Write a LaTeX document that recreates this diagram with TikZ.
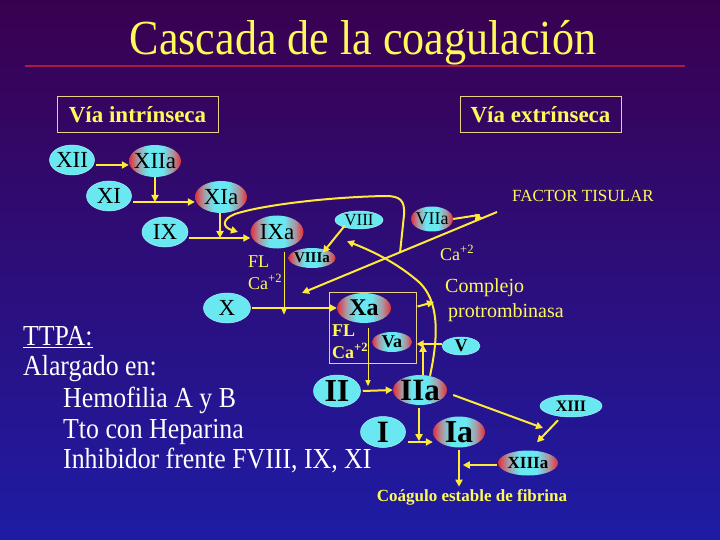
\documentclass[tikz,border=0pt]{standalone}
\usepackage{fontspec}
\setmainfont{Liberation Serif}
\usetikzlibrary{shapes.geometric,arrows.meta,calc}
\definecolor{bgtop}{RGB}{58,0,80}
\definecolor{bgbot}{RGB}{30,28,165}
\definecolor{yel}{RGB}{255,250,90}
\definecolor{arrY}{RGB}{255,235,55}
\definecolor{boxc}{RGB}{235,210,130}
\definecolor{redl}{RGB}{175,25,65}
\definecolor{cyE}{RGB}{105,232,242}
\definecolor{rdE}{RGB}{228,45,55}
\definecolor{mdE}{RGB}{170,150,160}
\pgfdeclarehorizontalshading{ellsh}{100bp}{color(0bp)=(rdE); color(25bp)=(rdE); color(33bp)=(mdE); color(43bp)=(cyE); color(57bp)=(cyE); color(67bp)=(mdE); color(75bp)=(rdE); color(100bp)=(rdE)}
\newcommand{\fsz}[1]{\fontsize{#1}{#1}\selectfont}
\tikzset{
 ell/.style={ellipse, inner sep=0pt, fill=cyE, draw=cyE!60!white, line width=0.5pt},
 ella/.style={ellipse, inner sep=0pt, shading=ellsh},
 arr/.style={draw=arrY, line width=2pt, -{Triangle[length=7pt,width=7pt]}},
 tarr/.style={draw=arrY, line width=1pt, -{Triangle[length=6pt,width=5pt]}},
 ytxt/.style={text=yel, inner sep=0pt},
 etxt/.style={text=black, inner sep=0pt},
 wtxt/.style={text=white, inner sep=0pt, anchor=base west},
 vbox/.style={draw=boxc, line width=1pt, minimum width=161, minimum height=36, text=yel, inner sep=0pt, font=\fsz{23}\bfseries},
}
\begin{document}
\begin{tikzpicture}[x=1pt,y=-1pt]
\useasboundingbox (0,0) rectangle (720,540);
\shade[top color=bgtop,bottom color=bgbot] (0,0) rectangle (720,540);

% title
\node[ytxt, anchor=base] (title) at (363,55) {\fsz{49}\scalebox{0.9}[1]{Cascada de la coagulación}};
\draw[redl, line width=1.2pt] (25,66) -- (685,66);

\node[vbox] (vint) at (137.5,115) {Vía intrínseca};
\node[vbox] (vext) at (540.5,115) {Vía extrínseca};

% ellipses
\node[ell,  minimum width=45, minimum height=30] (xii)  at (72,160) {};
\node[ella, minimum width=52, minimum height=32] (xiia) at (155,161) {};
\node[ell,  minimum width=45, minimum height=30] (xi)   at (109,196) {};
\node[ella, minimum width=52, minimum height=32] (xia)  at (221,197) {};
\node[ell,  minimum width=46, minimum height=30] (ix)   at (165,232) {};
\node[ella, minimum width=53, minimum height=33] (ixa)  at (277,232) {};
\node[ell,  minimum width=48, minimum height=18] (viii) at (359,220) {};
\node[ella, minimum width=42, minimum height=25] (viia) at (432,219) {};
\node[ella, minimum width=47, minimum height=20] (viiia) at (312,258) {};
\node[ell,  minimum width=47, minimum height=30] (x)    at (227,308) {};
\node[draw=boxc, line width=1pt, minimum width=87, minimum height=71, inner sep=0pt] (cplx) at (372.5,327.5) {};
\node[ella, minimum width=54, minimum height=30] (xa)   at (364,308) {};
\node[ella, minimum width=40, minimum height=20] (va)   at (392,342) {};
\node[ell,  minimum width=38, minimum height=18] (v)    at (461,346) {};
\node[ell,  minimum width=47, minimum height=32] (ii)   at (337,391) {};
\node[ella, minimum width=54, minimum height=30] (iia)  at (420,390) {};
\node[ell,  minimum width=45, minimum height=31] (i)    at (383,432) {};
\node[ella, minimum width=52, minimum height=31] (ia)   at (459,432) {};
\node[ell,  minimum width=62, minimum height=22] (xiii) at (571,406) {};
\node[ella, minimum width=60, minimum height=25] (xiiia) at (528,463) {};

% ellipse texts
\node[etxt, font=\fsz{23}] (xiiT) at (xii) {XII};
\node[etxt, font=\fsz{23}] (xiiaT) at (xiia) {XIIa};
\node[etxt, font=\fsz{23}] (xiT) at (xi) {XI};
\node[etxt, font=\fsz{23}] (xiaT) at (xia) {XIa};
\node[etxt, font=\fsz{23}] (ixT) at (ix) {IX};
\node[etxt, font=\fsz{23}] (ixaT) at (ixa) {IXa};
\node[etxt, font=\fsz{17}] (viiiT) at (viii) {VIII};
\node[etxt, font=\fsz{18}] (viiaT) at (viia) {VIIa};
\node[etxt, font=\fsz{15}\bfseries] (viiiaT) at (viiia) {VIIIa};
\node[etxt, font=\fsz{23}] (xT) at (x) {X};
\node[etxt, font=\fsz{24}\bfseries] (xaT) at (xa) {Xa};
\node[etxt, font=\fsz{18}\bfseries] (vaT) at (va) {Va};
\node[etxt, font=\fsz{18}\bfseries] (vT) at (v) {V};
\node[etxt, font=\fsz{32}\bfseries] (iiT) at (ii) {II};
\node[etxt, font=\fsz{31}\bfseries] (iiaT) at (iia) {IIa};
\node[etxt, font=\fsz{31}\bfseries] (iT) at (i) {I};
\node[etxt, font=\fsz{32}\bfseries] (iaT) at (ia) {Ia};
\node[etxt, font=\fsz{16}\bfseries] (xiiiT) at (xiii) {XIII};
\node[etxt, font=\fsz{17}\bfseries] (xiiiaT) at (xiiia) {XIIIa};

% labels
\node[ytxt, anchor=west, font=\fsz{18}] (fl1) at (248,262) {FL};
\node[ytxt, anchor=west, font=\fsz{18}] (ca1) at (248,282) {Ca\textsuperscript{+2}};
\node[ytxt, anchor=west, font=\fsz{18}\bfseries] (fl2) at (332,331) {FL};
\node[ytxt, anchor=west, font=\fsz{18}\bfseries] (ca2) at (332,351) {Ca\textsuperscript{+2}};
\node[ytxt, anchor=west, font=\fsz{18}] (ca3) at (440,253) {Ca\textsuperscript{+2}};
\node[ytxt, anchor=west, font=\fsz{17}] (ft) at (512,196) {FACTOR TISULAR};
\node[ytxt, anchor=west, font=\fsz{20}] (comp1) at (445,288) {Complejo};
\node[ytxt, anchor=west, font=\fsz{20}] (comp2) at (448,313) {protrombinasa};
\node[ytxt, font=\fsz{17}\bfseries] (coag) at (472,497) {Coágulo estable de fibrina};

% left text
\node[wtxt] (l1) at (23,345) {\fsz{29}\scalebox{0.89}[1]{\underline{TTPA:}}};
\node[wtxt] (l2) at (23,375) {\fsz{29}\scalebox{0.89}[1]{Alargado en:}};
\node[wtxt] (l3) at (63,407) {\fsz{29}\scalebox{0.89}[1]{Hemofilia A y B}};
\node[wtxt] (l4) at (63,438) {\fsz{29}\scalebox{0.89}[1]{Tto con Heparina}};
\node[wtxt] (l5) at (63,468) {\fsz{29}\scalebox{0.89}[1]{Inhibidor frente FVIII, IX, XI}};

% intrinsic cascade connectors
\draw[arr] ($(xii.east)+(1,5)$) -- ($(xiia.west)+(0,4)$);
\draw[arr] (xiia.south) -- ($(xiia.south |- xi)+(0,6)$);
\draw[arr] ($(xi.east)+(1,6)$) -- ($(xia.west)+(0,5)$);
\draw[arr] ($(xia.south)+(-1,0)$) -- ($(xia.south |- ix)+(-1,6)$);
\draw[arr] ($(ix.east)+(1,6)$) -- ($(ixa.west)+(0,6)$);
\draw[tarr] ($(ixa.south)+(7,3)$) -- ($(ixa.south)+(7,66)$);
\draw[arr] ($(x.east)+(1,0)$) -- (xa.west);
\draw[arr] ($(viii.south west)+(3,-1)$) -- ($(viiia.north east)+(-6,2)$);

% extrinsic pathway
\coordinate (tfA) at (497,212);
\coordinate (tfB) at (302,293);
\draw[arr] (tfA) -- (tfB);
\draw[arr, line join=round] (viia.east) -- (479,215) -- (475,221.5);
\coordinate (tfM) at ($(tfA)!0.497!(tfB)$);
\draw[arr] (tfM) -- (404,215) .. controls (405,200) and (400,196) .. (385,196)
  .. controls (330,197) and (262,205) .. (235,214)
  .. controls (222,219) and (222,227) .. (238,232);

% thrombin feedback to VIII
\draw[arr] ($(iia.north)+(10,1)$) .. controls (440,330) and (437,300) .. (420,283)
  .. controls (400,265) and (375,252) .. ($(viii.south)+(-12,12)$);
\draw[arr] ($(cplx.east)+(1,-21)$) -- (434,302);

% V -> Va and IIa -> Va
\draw[arr] ($(v.west)+(0,-2)$) -- ($(cplx.east |- v)+(0,-2)$);
\draw[arr] ($(iia.north)+(3,0)$) -- ($(iia.north)+(3,-30)$);

% common pathway
\draw[tarr] ($(xa.south)+(4,5)$) -- ($(xa.south)+(4,63)$);
\draw[arr] ($(ii.east)+(2,0)$) -- (iia.west);
\draw[arr] ($(iia.south)+(-1,3)$) -- ($(iia.south)+(-1,36)$);
\draw[arr] ($(i.east)+(2,10)$) -- ($(ia.west)+(0,10)$);
\draw[arr] ($(iia.east)+(6,5)$) -- ($(xiiia.center)+(15,-35)$);
\draw[arr] ($(xiii.south)+(-13,3)$) -- ($(xiiia.north)+(9,-8)$);
\draw[arr] ($(ia.south)+(0,2)$) -- ($(ia.south)+(0,39)$);
\draw[arr] ($(xiiia.west)+(-1,2)$) -- ($(xiiia.west)+(-35,2)$);
\end{tikzpicture}
\end{document}
